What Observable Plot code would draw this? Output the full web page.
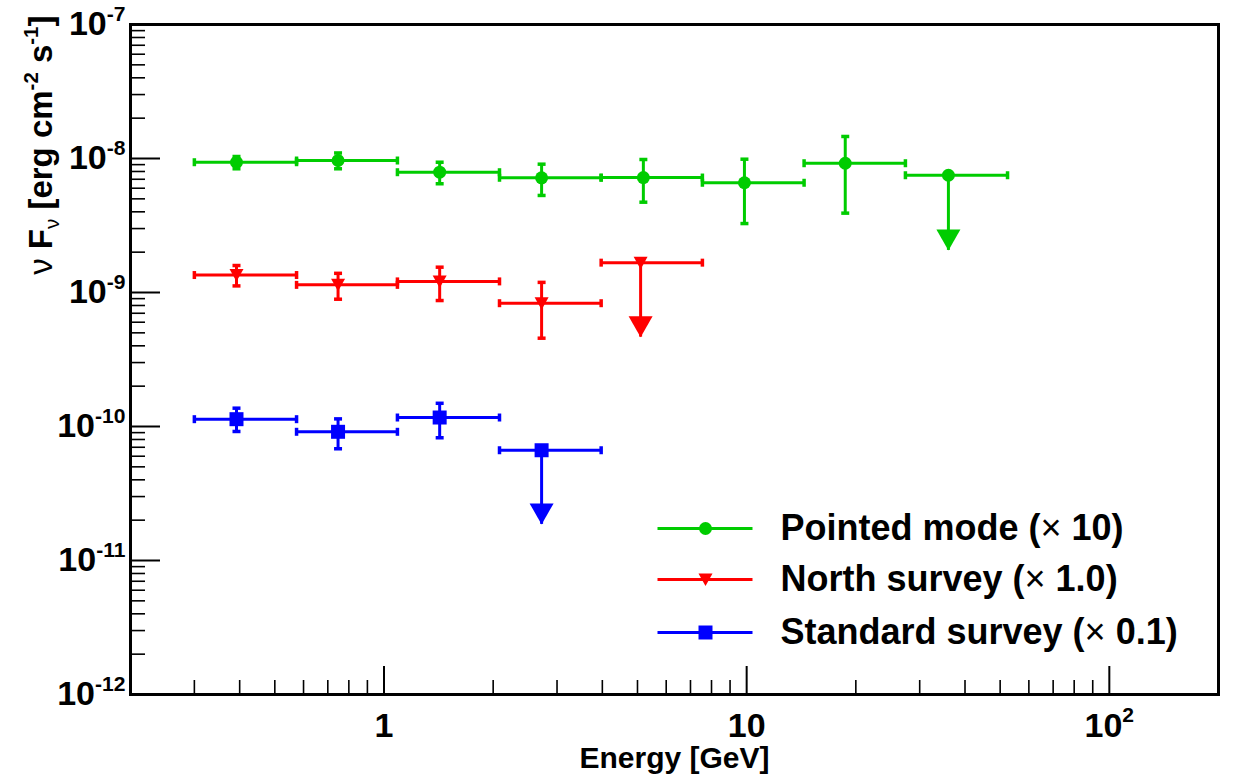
<!DOCTYPE html>
<html>
<head>
<meta charset="utf-8">
<script src="https://cdn.jsdelivr.net/npm/d3@7"></script>
<script src="https://cdn.jsdelivr.net/npm/@observablehq/plot@0.6"></script>
<style>
  body { margin: 0; background: #fff; }
  #chart svg { display: block; }
</style>
</head>
<body>
<div id="chart"></div>
<script>
// ---------------- data ----------------
const seriesNames  = ["Pointed mode (× 10)", "North survey (× 1.0)", "Standard survey (× 0.1)"];
const seriesColors = ["#00cc00", "#ff0000", "#0000ff"];

// Pointed mode (× 10)
const pointedE      = [0.392, 0.747, 1.424, 2.72, 5.19, 9.86, 18.7, 36.0];
const pointedBinLo  = [0.300, 0.574, 1.089, 2.082, 3.97, 7.55, 14.4, 27.4];
const pointedBinHi  = [0.574, 1.089, 2.082, 3.97, 7.55, 14.4, 27.4, 52.4];
const pointedF      = [9.38e-9, 9.66e-9, 7.90e-9, 7.18e-9, 7.21e-9, 6.59e-9, 9.22e-9, 7.50e-9];
const pointedErrLo  = [8.38e-9, 8.38e-9, 6.48e-9, 5.30e-9, 4.72e-9, 3.27e-9, 3.91e-9, null];
const pointedErrHi  = [1.035e-8, 1.10e-8, 9.38e-9, 9.07e-9, 9.83e-9, 9.88e-9, 1.46e-8, null];
const pointedArrow  = [null, null, null, null, null, null, null, 2.06e-9];

// North survey (× 1.0)
const northE      = [0.392, 0.747, 1.424, 2.72, 5.10];
const northBinLo  = [0.300, 0.574, 1.089, 2.082, 3.97];
const northBinHi  = [0.574, 1.089, 2.082, 3.97, 7.55];
const northF      = [1.35e-9, 1.14e-9, 1.21e-9, 8.32e-10, 1.67e-9];
const northErrLo  = [1.12e-9, 8.91e-10, 8.71e-10, 4.56e-10, null];
const northErrHi  = [1.59e-9, 1.39e-9, 1.545e-9, 1.19e-9, null];
const northArrow  = [null, null, null, null, 4.64e-10];

// Standard survey (× 0.1)
const standardE      = [0.392, 0.747, 1.424, 2.72];
const standardBinLo  = [0.300, 0.574, 1.089, 2.082];
const standardBinHi  = [0.574, 1.089, 2.082, 3.97];
const standardF      = [1.134e-10, 9.13e-11, 1.167e-10, 6.65e-11];
const standardErrLo  = [9.18e-11, 6.82e-11, 8.24e-11, null];
const standardErrHi  = [1.37e-10, 1.14e-10, 1.49e-10, null];
const standardArrow  = [null, null, null, 1.86e-11];

// axis ticks and labels
const xMajor = [1, 10, 100];
const xTickLabels = ["1", "10", "10^2"];
const yMajor = [1e-12, 1e-11, 1e-10, 1e-9, 1e-8, 1e-7];
const yTickLabels = ["10^-12", "10^-11", "10^-10", "10^-9", "10^-8", "10^-7"];
const xTitle = "Energy [GeV]";
const yTitle = "ν Fν [erg cm-2 s-1]";

// ---------------- build rows ----------------
function rowsOf(name, E, lo, hi, F, eLo, eHi, arrow) {
  return E.map((e, i) => ({
    series: name, e, binLo: lo[i], binHi: hi[i], f: F[i],
    fLo: eLo[i], fHi: eHi[i], tip: arrow[i], ul: arrow[i] != null
  }));
}
const bySeries = [
  rowsOf(seriesNames[0], pointedE, pointedBinLo, pointedBinHi, pointedF, pointedErrLo, pointedErrHi, pointedArrow),
  rowsOf(seriesNames[1], northE, northBinLo, northBinHi, northF, northErrLo, northErrHi, northArrow),
  rowsOf(seriesNames[2], standardE, standardBinLo, standardBinHi, standardF, standardErrLo, standardErrHi, standardArrow)
];

// minor ticks
const xMinor = [];
for (let k = -1; k <= 1; k++) for (let m = 2; m <= 9; m++) {
  const v = m * Math.pow(10, k);
  if (v > 0.2 && v < 200) xMinor.push(v);
}
const yMinor = [];
for (let k = -12; k <= -8; k++) for (let m = 2; m <= 9; m++) yMinor.push(m * Math.pow(10, k));

// ---------------- symbols ----------------
const circleSym  = { draw(c) { c.moveTo(6.5, 0); c.arc(0, 0, 6.5, 0, 2 * Math.PI); c.closePath(); } };
const squareSym  = { draw(c) { c.rect(-7, -7, 14, 14); } };
const triDownSym = { draw(c) { c.moveTo(-7, -6); c.lineTo(7, -6); c.lineTo(0, 6.5); c.closePath(); } };
const arrowSym   = { draw(c) { c.moveTo(-12, -21); c.lineTo(12, -21); c.lineTo(0, 0); c.closePath(); } };
const hCapSym    = { draw(c) { c.moveTo(-4, 0); c.lineTo(4, 0); } };
const vCapSym    = { draw(c) { c.moveTo(0, -4); c.lineTo(0, 4); } };
const legLineSym = { draw(c) { c.moveTo(-48, 0); c.lineTo(47, 0); } };
const markerSyms = [circleSym, triDownSym, squareSym];

// ---------------- layout ----------------
const W = 1234, H = 774;
const mL = 130, mR = 16, mT = 24, mB = 80;
const frameW = W - mL - mR, frameH = H - mT - mB;
const FONT = "'Liberation Sans', Arial, Helvetica, sans-serif";
const tickFs = 34, legendFs = 36, xTitleFs = 30, yTitleFs = 33;

const marks = [];

// tick marks inside the frame
marks.push(Plot.ruleY(yMajor, { y: d => d, insetRight: frameW - 30, stroke: "black", strokeWidth: 2 }));
marks.push(Plot.ruleY(yMinor, { y: d => d, insetRight: frameW - 15, stroke: "black", strokeWidth: 1.6 }));
marks.push(Plot.ruleX(xMajor, { x: d => d, insetTop: frameH - 28, stroke: "black", strokeWidth: 2 }));
marks.push(Plot.ruleX(xMinor, { x: d => d, insetTop: frameH - 14, stroke: "black", strokeWidth: 1.6 }));

// tick labels
marks.push(Plot.axisY(yMajor, { anchor: "left", tickSize: 0, tickPadding: 5, label: null,
  tickFormat: d => yTickLabels[yMajor.indexOf(d)], fontSize: tickFs, fontWeight: "bold" }));
marks.push(Plot.axisX(xMajor, { anchor: "bottom", tickSize: 0, tickPadding: 18, label: null,
  tickFormat: d => xTickLabels[xMajor.indexOf(d)], fontSize: tickFs, fontWeight: "bold" }));

// axis titles
marks.push(Plot.text([xTitle], { text: d => d, frameAnchor: "bottom", lineAnchor: "middle", dy: 64,
  fontSize: xTitleFs, fontWeight: "bold" }));
marks.push(Plot.text([yTitle], { text: d => d, frameAnchor: "top-left", lineAnchor: "middle", rotate: -90,
  textAnchor: "end", dx: -89, dy: -9, fontSize: yTitleFs, fontWeight: "bold" }));

// data
bySeries.forEach((rs, i) => {
  const meas = rs.filter(d => !d.ul), ul = rs.filter(d => d.ul);
  // horizontal bin bars
  marks.push(Plot.ruleY(rs, { y: "f", x1: "binLo", x2: "binHi", stroke: "series", strokeWidth: 3 }));
  marks.push(Plot.dot(rs, { x: "binLo", y: "f", symbol: vCapSym, fill: "none", stroke: "series", strokeWidth: 3.5 }));
  marks.push(Plot.dot(rs, { x: "binHi", y: "f", symbol: vCapSym, fill: "none", stroke: "series", strokeWidth: 3.5 }));
  // vertical error bars
  marks.push(Plot.ruleX(meas, { x: "e", y1: "fLo", y2: "fHi", stroke: "series", strokeWidth: 3 }));
  marks.push(Plot.dot(meas, { x: "e", y: "fLo", symbol: hCapSym, fill: "none", stroke: "series", strokeWidth: 3.5 }));
  marks.push(Plot.dot(meas, { x: "e", y: "fHi", symbol: hCapSym, fill: "none", stroke: "series", strokeWidth: 3.5 }));
  // upper limit arrows
  marks.push(Plot.ruleX(ul, { x: "e", y1: "f", y2: "tip", stroke: "series", strokeWidth: 3 }));
  marks.push(Plot.dot(ul, { x: "e", y: "tip", symbol: arrowSym, fill: "series", stroke: "none" }));
  // markers
  marks.push(Plot.dot(rs, { x: "e", y: "f", symbol: markerSyms[i], fill: "series", stroke: "none" }));
});

// legend (inside the frame, bottom right)
const legendDy = [-166, -115, -62];
seriesNames.forEach((name, i) => {
  marks.push(Plot.dot([name], { frameAnchor: "bottom-left", dx: 575, dy: legendDy[i], symbol: legLineSym,
    fill: "none", stroke: d => d, strokeWidth: 3 }));
  marks.push(Plot.dot([name], { frameAnchor: "bottom-left", dx: 575, dy: legendDy[i], symbol: markerSyms[i],
    fill: d => d, stroke: "none" }));
  marks.push(Plot.text([name], { text: d => d, frameAnchor: "bottom-left", lineAnchor: "middle", dx: 650, dy: legendDy[i],
    textAnchor: "start", fontSize: legendFs, fontWeight: "bold", fill: "black" }));
});

marks.push(Plot.frame({ stroke: "black", strokeWidth: 3 }));

const svg = Plot.plot({
  width: W, height: H,
  marginLeft: mL, marginRight: mR, marginTop: mT, marginBottom: mB,
  x: { type: "log", domain: [0.2, 200] },
  y: { type: "log", domain: [1e-12, 1e-7] },
  color: { domain: seriesNames, range: seriesColors },
  style: { fontFamily: FONT, fontWeight: "bold", background: "white", color: "black", overflow: "visible" },
  marks
});

// ---------------- rich text (superscripts / subscripts / symbol glyphs) ----------------
function richify(el, parts, fs) {
  const t = d3.select(el);
  t.text(null);
  let cur = 0;
  parts.forEach(p => {
    const target = p.sup ? -0.42 * fs : p.sub ? 0.22 * fs : 0;
    const ts = t.append("tspan").text(p.t);
    if (target !== cur) ts.attr("dy", target - cur);
    cur = target;
    if (p.sup || p.sub) ts.attr("font-size", 0.62 * fs);
    if (p.normal) ts.attr("font-weight", "normal");
  });
}
d3.select(svg).selectAll("text").each(function () {
  const s = this.textContent;
  if (s === yTitle) {
    richify(this, [
      { t: "ν ", normal: true }, { t: "F" }, { t: "ν", sub: true, normal: true },
      { t: " [erg cm" }, { t: "-2", sup: true }, { t: " s" }, { t: "-1", sup: true }, { t: "]" }
    ], yTitleFs);
  } else if (/^10\^/.test(s)) {
    const [b, e] = s.split("^");
    richify(this, [{ t: b }, { t: e, sup: true }], tickFs);
  } else if (seriesNames.includes(s)) {
    const [a, b] = s.split("×");
    richify(this, [{ t: a }, { t: "×", normal: true }, { t: b }], legendFs);
  }
});

document.getElementById("chart").appendChild(svg);
</script>
</body>
</html>
